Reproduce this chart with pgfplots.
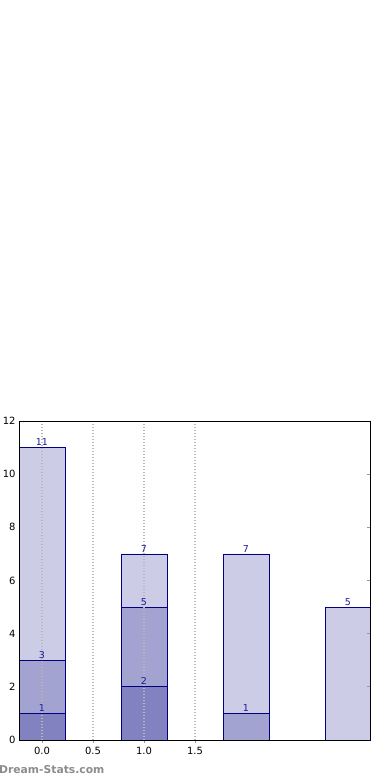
\documentclass[border=0pt]{standalone}
\usepackage{pgfplots}
\pgfplotsset{compat=1.18}
\usepackage{fontspec}
\setmainfont{DejaVu Sans}
\definecolor{navyedge}{HTML}{000080}
\definecolor{labnavy}{HTML}{1A1A99}
\definecolor{c1}{HTML}{CCCCE6}
\definecolor{c2}{HTML}{A3A3D1}
\definecolor{c3}{HTML}{8282C0}
\begin{document}
\begin{tikzpicture}
\path[use as bounding box] (0,0) rectangle (390bp,780bp);
\begin{axis}[
  at={(19bp,40bp)}, anchor=south west,
  scale only axis, width=351bp, height=319bp,
  xmin=-0.225, xmax=3.216, ymin=0, ymax=12,
  xtick={0,0.5,1,1.5}, ytick={0,2,4,6,8,10,12},
  xticklabel={\pgfmathprintnumber[fixed,fixed zerofill,precision=1]{\tick}},
  /pgf/number format/assume math mode=true,
  tick label style={font=\fontsize{10}{12}\selectfont},
  axis on top,
  xmajorgrids,
  grid style={black!28, line width=1.1bp, dash pattern=on 1.1bp off 1.9bp},
  tick align=inside,
  major tick length=3.5bp,
  ytick pos=right, yticklabel pos=left,
  xtick pos=bottom, xticklabel pos=bottom,
  tick style={black!40, line width=0.9bp},
  axis line style={black, line width=0.8bp},
  ybar, bar width=0.45,
  nodes near coords,
  every node near coord/.append style={font=\fontsize{9.5}{11}\selectfont, text=labnavy, inner sep=1.5pt},
]
\addplot[bar shift=0pt, fill=c1, draw=navyedge, line width=0.7bp] coordinates {(0,11) (1,7) (2,7) (3,5)};
\addplot[bar shift=0pt, fill=c2, draw=navyedge, line width=0.7bp] coordinates {(0,3) (1,5) (2,1)};
\addplot[bar shift=0pt, fill=c3, draw=navyedge, line width=0.7bp] coordinates {(0,1) (1,2)};
\end{axis}
\node[anchor=west, text=black!45, font=\fontsize{10.8}{12}\selectfont\bfseries, inner sep=0pt] at (-1bp,10bp) {Dream-Stats.com};
\end{tikzpicture}
\end{document}
